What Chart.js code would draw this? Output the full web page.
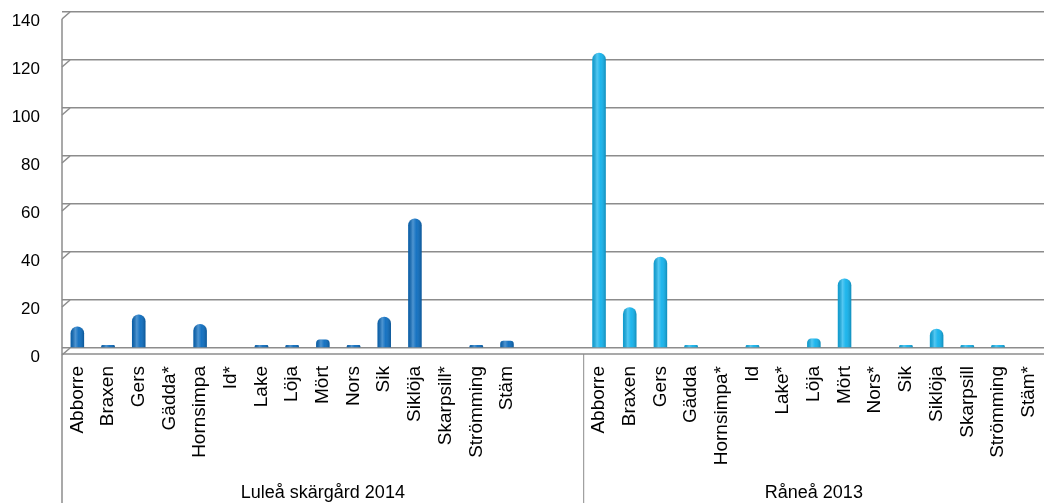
<!DOCTYPE html>
<html>
<head>
<meta charset="utf-8">
<script src="https://cdn.jsdelivr.net/npm/chart.js@4.4.0/dist/chart.umd.min.js"></script>
<style>
  html, body { margin: 0; padding: 0; background: #fff; }
  #wrap { width: 1046px; height: 503px; }
</style>
</head>
<body>
<div id="wrap"><canvas id="fiskChart"></canvas></div>
<script>
// species per area (* = not caught)
var luleaSpecies = ["Abborre","Braxen","Gers","Gädda*","Hornsimpa","Id*","Lake","Löja","Mört","Nors","Sik","Siklöja","Skarpsill*","Strömming","Stäm"];
var raneaSpecies = ["Abborre","Braxen","Gers","Gädda","Hornsimpa*","Id","Lake*","Löja","Mört","Nors*","Sik","Siklöja","Skarpsill","Strömming","Stäm*"];
var luleaValues = [9, 0.4, 14, null, 10, null, 0.4, 0.4, 3.5, 0.3, 13, 54, null, 0.4, 3];
var raneaValues = [123, 17, 38, 0.4, null, 0.3, null, 4, 29, null, 0.8, 8, 0.3, 0.3, null];
var groupNames = ["Luleå skärgård 2014", "Råneå 2013"];
var yTicks = [0, 20, 40, 60, 80, 100, 120, 140];

var gap = ["", ""];
var labels = luleaSpecies.concat(gap, raneaSpecies);
var blank = function(n){ var a = []; for (var i = 0; i < n; i++) a.push(null); return a; };
var luleaData = luleaValues.concat(blank(2), blank(raneaSpecies.length));
var raneaData = blank(luleaSpecies.length + 2).concat(raneaValues);

var FONT = "'Liberation Sans', Arial, sans-serif";
var GRID = "#8c8c8c";

// 3D-ish decoration: floor edge, axis lines, group row
var decor = {
  id: "decor",
  beforeDatasetsDraw: function(chart) {
    var ctx = chart.ctx, a = chart.chartArea, y = chart.scales.y;
    ctx.save();
    ctx.strokeStyle = GRID;
    ctx.lineWidth = 1.5;
    yTicks.forEach(function(t){
      var py = y.getPixelForValue(t);
      ctx.beginPath();
      ctx.moveTo(a.left, py + 7);
      ctx.lineTo(a.left + 8, py);
      ctx.stroke();
    });
    ctx.beginPath();
    ctx.moveTo(a.left, a.bottom + 6);
    ctx.lineTo(a.right, a.bottom + 6);
    ctx.stroke();
    ctx.restore();
  },
  afterDatasetsDraw: function(chart) {
    var ctx = chart.ctx;
    chart.data.datasets.forEach(function(ds, i){
      chart.getDatasetMeta(i).data.forEach(function(bar, j){
        if (ds.data[j] === null) return;
        var p = bar.getProps(["x", "y", "base", "width"], true);
        var x0 = p.x - p.width / 2;
        var g = ctx.createLinearGradient(x0, 0, x0 + p.width, 0);
        g.addColorStop(0, "rgba(0,0,0,0.12)");
        g.addColorStop(0.35, "rgba(255,255,255,0.28)");
        g.addColorStop(0.6, "rgba(255,255,255,0.05)");
        g.addColorStop(1, "rgba(0,0,0,0.22)");
        ctx.save();
        ctx.beginPath();
        var r = Math.min(p.width / 2, (p.base - p.y) / 2);
        ctx.moveTo(x0, p.base);
        ctx.lineTo(x0, p.y + r);
        ctx.quadraticCurveTo(x0, p.y, x0 + r, p.y);
        ctx.lineTo(x0 + p.width - r, p.y);
        ctx.quadraticCurveTo(x0 + p.width, p.y, x0 + p.width, p.y + r);
        ctx.lineTo(x0 + p.width, p.base);
        ctx.closePath();
        ctx.fillStyle = g;
        ctx.fill();
        ctx.restore();
      });
    });
  },
  afterDraw: function(chart) {
    var ctx = chart.ctx, a = chart.chartArea, x = chart.scales.x;
    var H = chart.height;
    var n1 = luleaSpecies.length + gap.length;
    var step = x.getPixelForValue(1) - x.getPixelForValue(0);
    var sep = (x.getPixelForValue(n1 - 1) + x.getPixelForValue(n1)) / 2;
    var first = x.getPixelForValue(0) - step / 2;
    var last = x.getPixelForValue(labels.length - 1) + step / 2;
    ctx.save();
    ctx.strokeStyle = GRID;
    ctx.lineWidth = 1.5;
    ctx.beginPath();
    ctx.moveTo(a.left, a.top + 7);
    ctx.lineTo(a.left, H);
    ctx.stroke();
    ctx.lineWidth = 1;
    ctx.beginPath();
    ctx.moveTo(sep, a.bottom + 6);
    ctx.lineTo(sep, H);
    ctx.stroke();
    ctx.fillStyle = "#000";
    ctx.font = "18px " + FONT;
    ctx.textAlign = "center";
    ctx.textBaseline = "middle";
    ctx.fillText(groupNames[0], (first + sep) / 2, 493);
    ctx.fillText(groupNames[1], (sep + last) / 2, 493);
    ctx.restore();
  }
};

new Chart(document.getElementById("fiskChart"), {
  type: "bar",
  data: {
    labels: labels,
    datasets: [
      { label: groupNames[0], data: luleaData, backgroundColor: "#0b6cbf" },
      { label: groupNames[1], data: raneaData, backgroundColor: "#12b2ec" }
    ]
  },
  plugins: [decor],
  options: {
    responsive: true,
    maintainAspectRatio: false,
    animation: false,
    layout: { padding: { top: 12, right: 2, left: 0, bottom: 0 } },
    datasets: {
      bar: {
        grouped: false,
        barPercentage: 0.44,
        categoryPercentage: 1,
        minBarLength: 3,
        borderRadius: { topLeft: 7, topRight: 7, bottomLeft: 0, bottomRight: 0 },
        borderSkipped: "start"
      }
    },
    plugins: {
      legend: { display: false },
      tooltip: { enabled: false }
    },
    scales: {
      x: {
        grid: { display: false, drawTicks: false },
        border: { display: false },
        afterFit: function(s){ s.height = 155; s.paddingLeft = 0; s.paddingRight = 0; },
        ticks: {
          autoSkip: false,
          maxRotation: 90,
          minRotation: 90,
          padding: 18,
          color: "#000",
          font: { family: FONT, size: 19 }
        }
      },
      y: {
        min: 0,
        max: 140,
        afterFit: function(s){ s.width = 62; s.paddingTop = 0; s.paddingBottom = 0; },
        afterBuildTicks: function(s){ s.ticks = yTicks.map(function(v){ return { value: v }; }); },
        grid: { color: GRID, lineWidth: 1.5, drawTicks: false },
        border: { display: false },
        ticks: {
          padding: 22,
          labelOffset: 9,
          color: "#000",
          font: { family: FONT, size: 17 }
        }
      }
    }
  }
});
</script>
</body>
</html>
